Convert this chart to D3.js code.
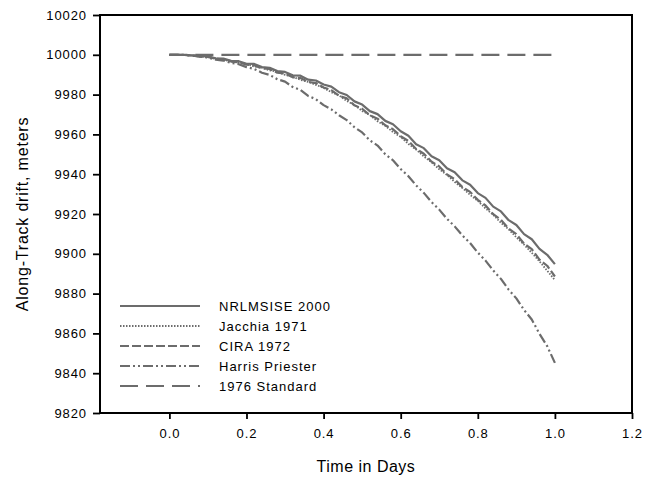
<!DOCTYPE html>
<html>
<head>
<meta charset="utf-8">
<script src="https://cdn.jsdelivr.net/npm/d3@7"></script>
<style>
  body { margin: 0; background: #fff; }
  text { font-family: "Liberation Sans", Arial, sans-serif; fill: #000; }
</style>
</head>
<body>
<svg id="chart" width="651" height="477"></svg>
<script>
// Elapsed time in days
const days = [
  0.00, 0.02, 0.04, 0.06, 0.08, 0.10, 0.12, 0.14, 0.16, 0.18,
  0.20, 0.22, 0.24, 0.26, 0.28, 0.30, 0.32, 0.34, 0.36, 0.38,
  0.40, 0.42, 0.44, 0.46, 0.48, 0.50, 0.52, 0.54, 0.56, 0.58,
  0.60, 0.62, 0.64, 0.66, 0.68, 0.70, 0.72, 0.74, 0.76, 0.78,
  0.80, 0.82, 0.84, 0.86, 0.88, 0.90, 0.92, 0.94, 0.96, 0.98,
  1.00
];

// Along-track position (m) for each atmosphere model
const nrlmsise2000 = [
  10000, 10000, 9999.9, 9999.7, 9999.3, 9999.2, 9998.2, 9998.1, 9997.0, 9996.8,
  9995.5, 9995.4, 9993.8, 9993.5, 9991.8, 9991.4, 9989.7, 9989.5, 9987.5, 9987.1,
  9985.1, 9984.0, 9981.2, 9979.8, 9976.6, 9975.0, 9971.7, 9970.2, 9966.8, 9965.1,
  9961.6, 9959.3, 9955.1, 9953.1, 9949.0, 9947.0, 9943.0, 9941.0, 9936.9, 9934.7,
  9930.5, 9928.1, 9923.7, 9921.3, 9916.9, 9914.5, 9909.9, 9907.3, 9902.5, 9899.5,
  9894.8
];
const jacchia1971 = [
  10000, 10000, 9999.9, 9999.5, 9999.1, 9998.7, 9998.2, 9997.4, 9996.9, 9995.9,
  9995.5, 9994.1, 9993.6, 9992.2, 9991.5, 9989.9, 9989.0, 9987.4, 9986.4, 9984.9,
  9983.4, 9981.2, 9979.6, 9976.8, 9974.8, 9971.8, 9969.7, 9966.6, 9964.3, 9961.2,
  9958.7, 9955.2, 9952.4, 9948.9, 9946.0, 9942.5, 9939.6, 9936.1, 9933.1, 9929.6,
  9926.6, 9922.8, 9919.6, 9915.6, 9912.3, 9908.3, 9904.6, 9900.5, 9896.2, 9891.5,
  9886.8
];
const cira1972 = [
  10000, 10000, 9999.9, 9999.6, 9999.2, 9999.0, 9998.0, 9997.8, 9996.6, 9996.3,
  9995.0, 9994.7, 9993.2, 9992.9, 9991.0, 9990.6, 9988.7, 9988.3, 9986.4, 9985.8,
  9983.6, 9982.3, 9979.4, 9978.1, 9974.6, 9972.9, 9969.6, 9967.9, 9964.6, 9962.6,
  9959.1, 9956.7, 9952.7, 9950.3, 9946.3, 9943.9, 9939.9, 9937.5, 9933.5, 9931.1,
  9927.1, 9924.3, 9919.9, 9917.1, 9912.7, 9909.9, 9905.1, 9902.3, 9897.1, 9894.0,
  9888.6
];
const harrisPriester = [
  10000, 10000, 9999.9, 9999.6, 9999.1, 9998.6, 9997.6, 9997.1, 9995.9, 9995.3,
  9993.8, 9992.9, 9991.0, 9989.9, 9987.7, 9986.5, 9983.8, 9982.3, 9979.3, 9977.7,
  9974.7, 9972.6, 9969.6, 9967.2, 9963.6, 9961.0, 9957.0, 9954.4, 9950.0, 9947.0,
  9942.6, 9939.0, 9934.4, 9930.6, 9926.0, 9922.2, 9917.6, 9913.8, 9909.2, 9905.4,
  9900.6, 9896.6, 9891.6, 9887.4, 9882.0, 9877.6, 9871.8, 9867.0, 9859.8, 9853.6,
  9845.2
];
const standard1976Days = [0.0, 1.0];
const standard1976 = [10000, 10000];

const seriesNames = ["NRLMSISE 2000", "Jacchia 1971", "CIRA 1972", "Harris Priester", "1976 Standard"];
const xTicks = [0.0, 0.2, 0.4, 0.6, 0.8, 1.0, 1.2];
const yTicks = [9820, 9840, 9860, 9880, 9900, 9920, 9940, 9960, 9980, 10000, 10020];

const W = 651, H = 477;
const margin = { top: 15, right: 19, bottom: 64, left: 100 };
const svg = d3.select("#chart");

const x = d3.scaleLinear().domain([-0.18, 1.2]).range([margin.left, W - margin.right]);
const y = d3.scaleLinear().domain([9820, 10020]).range([H - margin.bottom, margin.top]);

const lineColor = "#6c6c6c";
const styles = [
  { dash: null, width: 2.2 },
  { dash: "1.5,1.5", width: 1.8 },
  { dash: "9,3", width: 2.2 },
  { dash: "10,3,2,3,2,3", width: 2.2 },
  { dash: "18,8", width: 2.2 }
];

const series = [
  { xs: days, ys: nrlmsise2000 },
  { xs: days, ys: jacchia1971 },
  { xs: days, ys: cira1972 },
  { xs: days, ys: harrisPriester },
  { xs: standard1976Days, ys: standard1976 }
];

const line = d3.line().x(d => x(d[0])).y(d => y(d[1]));

// Data lines (draw lower curves first)
const order = [4, 3, 2, 1, 0];
order.forEach(i => {
  const s = series[i];
  const pts = s.xs.map((t, k) => [t, s.ys[k]]);
  svg.append("path")
    .attr("d", line(pts))
    .attr("fill", "none")
    .attr("stroke", lineColor)
    .attr("stroke-width", styles[i].width)
    .attr("stroke-dasharray", styles[i].dash)
    .attr("stroke-linejoin", "round");
});

// Axes
const fontSize = 13;
const gx = svg.append("g")
  .attr("transform", `translate(0,${H - margin.bottom})`)
  .call(d3.axisBottom(x).tickValues(xTicks).tickSize(6).tickPadding(10).tickFormat(d3.format(".1f")));
const gy = svg.append("g")
  .attr("transform", `translate(${margin.left},0)`)
  .call(d3.axisLeft(y).tickValues(yTicks).tickSize(7).tickPadding(6).tickFormat(d3.format("d")));

[gx, gy].forEach(g => {
  g.select(".domain").remove();
  g.selectAll(".tick line").attr("stroke", "#000").attr("stroke-width", 1.8);
  g.selectAll(".tick text")
    .attr("font-family", "Liberation Sans, Arial, sans-serif")
    .attr("font-size", fontSize)
    .style("letter-spacing", "0.9px")
    .attr("fill", "#000");
});

// Frame around the plot area
svg.append("rect")
  .attr("x", margin.left)
  .attr("y", margin.top)
  .attr("width", W - margin.left - margin.right)
  .attr("height", H - margin.top - margin.bottom)
  .attr("fill", "none")
  .attr("stroke", "#000")
  .attr("stroke-width", 2);

// Axis titles
svg.append("text")
  .attr("x", (margin.left + W - margin.right) / 2)
  .attr("y", 472)
  .attr("text-anchor", "middle")
  .attr("font-size", 16)
  .style("letter-spacing", "0.5px")
  .text("Time in Days");

svg.append("text")
  .attr("transform", `translate(28,${(margin.top + H - margin.bottom) / 2}) rotate(-90)`)
  .attr("text-anchor", "middle")
  .attr("font-size", 16)
  .style("letter-spacing", "0.8px")
  .text("Along-Track drift, meters");

// Legend
const legend = svg.append("g");
seriesNames.forEach((name, i) => {
  const ly = 306 + i * 20;
  legend.append("line")
    .attr("x1", 120).attr("x2", 200)
    .attr("y1", ly).attr("y2", ly)
    .attr("stroke", lineColor)
    .attr("stroke-width", styles[i].width)
    .attr("stroke-dasharray", styles[i].dash);
  legend.append("text")
    .attr("x", 219)
    .attr("y", ly + 5)
    .attr("font-size", fontSize)
    .style("letter-spacing", "1px")
    .text(name);
});
</script>
</body>
</html>
